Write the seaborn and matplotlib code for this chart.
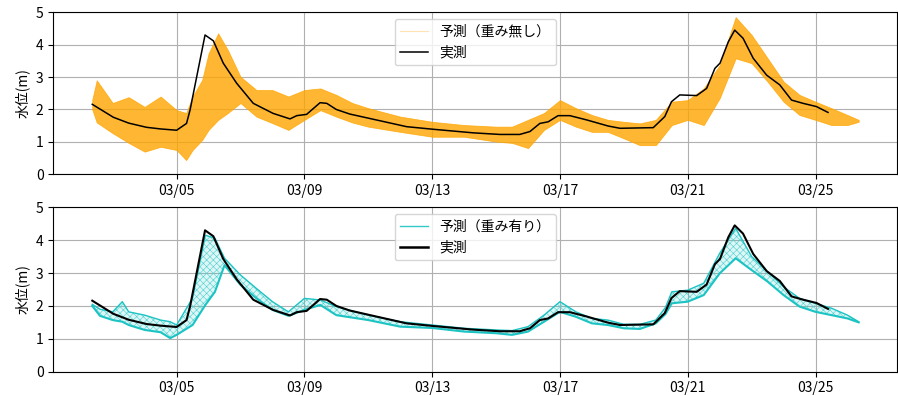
import numpy as np
import pandas as pd
import matplotlib
matplotlib.use("Agg")
import matplotlib.pyplot as plt
import matplotlib.dates as mdates
from matplotlib.lines import Line2D
import seaborn as sns

# ---------------- data (day-of-March, fractional) ----------------
obs_days = [2.36, 3.02, 3.5, 4.06, 4.5, 5.0, 5.31, 5.42, 5.89, 6.15, 6.46, 6.88,
            7.40, 8.02, 8.55, 8.76, 9.07, 9.49, 9.70, 10.0, 10.42, 11.15, 12.20,
            13.03, 14.28, 15.12, 15.74, 16.06, 16.37, 16.63, 16.94, 17.31, 17.83,
            18.51, 18.88, 19.92, 20.28, 20.49, 20.75, 21.28, 21.59, 21.85, 22.01,
            22.27, 22.47, 22.73, 23.05, 23.47, 23.88, 24.25, 24.61, 25.03, 25.39]
obs_level = [2.16, 1.76, 1.58, 1.45, 1.40, 1.36, 1.57, 1.98, 4.30, 4.12, 3.43, 2.81,
             2.19, 1.88, 1.71, 1.81, 1.85, 2.21, 2.19, 2.00, 1.86, 1.70, 1.47,
             1.39, 1.28, 1.23, 1.23, 1.32, 1.57, 1.62, 1.81, 1.81, 1.68,
             1.49, 1.42, 1.44, 1.78, 2.24, 2.45, 2.43, 2.65, 3.27, 3.43,
             4.09, 4.45, 4.20, 3.58, 3.06, 2.76, 2.29, 2.19, 2.09, 1.91]

# unweighted forecast spread (upper / lower envelope)
fa_days = [2.36, 2.5, 3.0, 3.5, 4.0, 4.5, 5.0, 5.3, 5.5, 5.8, 6.0, 6.3, 6.6, 7.0,
           7.5, 8.0, 8.5, 9.0, 9.5, 10.0, 10.5, 11.0, 12.0, 13.0, 14.0, 15.0,
           15.5, 16.0, 16.5, 17.0, 17.5, 18.0, 18.5, 19.0, 19.5, 20.0, 20.5,
           21.0, 21.5, 22.0, 22.5, 23.0, 23.5, 24.0, 24.5, 25.0, 25.5, 26.0, 26.35]
fa_upper = [2.30, 2.90, 2.20, 2.38, 2.08, 2.40, 1.98, 1.89, 2.40, 2.91, 3.73, 4.35,
            3.84, 3.01, 2.60, 2.60, 2.40, 2.60, 2.65, 2.45, 2.20, 2.04, 1.78,
            1.62, 1.52, 1.47, 1.47, 1.68, 1.89, 2.29, 2.04, 1.83, 1.68, 1.62,
            1.57, 1.68, 2.24, 2.29, 2.65, 3.37, 4.85, 4.30, 3.58, 2.86, 2.45,
            2.24, 2.04, 1.83, 1.68]
fa_lower = [2.00, 1.60, 1.27, 0.97, 0.70, 0.85, 0.75, 0.44, 0.75, 1.06, 1.37, 1.68,
            1.89, 2.20, 1.78, 1.58, 1.37, 1.68, 1.98, 1.78, 1.60, 1.47, 1.31,
            1.16, 1.16, 1.01, 0.97, 0.81, 1.37, 1.68, 1.47, 1.31, 1.31, 1.11,
            0.90, 0.90, 1.52, 1.68, 1.52, 2.35, 3.58, 3.43, 2.86, 2.24, 1.83,
            1.68, 1.52, 1.52, 1.62]

# weighted forecast spread
fb_days = [2.36, 2.6, 3.0, 3.3, 3.5, 4.0, 4.5, 4.8, 5.0, 5.5, 5.9, 6.2, 6.5, 7.0,
           7.5, 8.0, 8.5, 9.0, 9.5, 10.0, 11.0, 12.0, 13.0, 14.0, 15.0, 15.5,
           16.0, 16.5, 17.0, 17.5, 18.0, 18.5, 19.0, 19.5, 20.0, 20.3, 20.5,
           21.0, 21.5, 22.0, 22.5, 23.0, 23.5, 24.0, 24.5, 25.0, 25.5, 26.0, 26.35]
fb_upper = [2.05, 1.90, 1.82, 2.13, 1.82, 1.72, 1.57, 1.52, 1.42, 2.24, 4.15, 4.06,
            3.45, 2.94, 2.53, 2.13, 1.82, 2.23, 2.18, 1.98, 1.72, 1.52, 1.42,
            1.32, 1.27, 1.25, 1.37, 1.72, 2.13, 1.82, 1.62, 1.57, 1.44, 1.44,
            1.57, 1.95, 2.43, 2.48, 2.69, 3.60, 4.36, 3.50, 3.04, 2.58, 2.23,
            2.08, 1.93, 1.72, 1.52]
fb_lower = [2.00, 1.70, 1.57, 1.52, 1.42, 1.27, 1.20, 1.02, 1.12, 1.42, 2.03, 2.43,
            3.24, 2.64, 2.23, 1.88, 1.70, 1.88, 2.03, 1.72, 1.57, 1.37, 1.33,
            1.22, 1.17, 1.12, 1.22, 1.52, 1.82, 1.67, 1.47, 1.42, 1.32, 1.30,
            1.47, 1.75, 2.08, 2.13, 2.33, 2.99, 3.45, 3.09, 2.74, 2.33, 1.98,
            1.82, 1.72, 1.62, 1.50]

tick_days = [5, 9, 13, 17, 21, 25]
y_ticks = [0, 1, 2, 3, 4, 5]
label_fc_a = "予測（重み無し）"
label_fc_b = "予測（重み有り）"
label_obs = "実測"
ylabel = "水位(m)"

# ---------------- plotting ----------------
plt.rcParams['font.family'] = ['Noto Sans CJK JP', 'DejaVu Sans']
plt.rcParams['hatch.linewidth'] = 0.4

base = pd.Timestamp("2024-03-01")


def to_time(days):
    return base + pd.to_timedelta(np.asarray(days, dtype=float) - 1.0, unit="D")


ORANGE = "#FFA500"
TEAL = "#1CC3C3"
TEAL_LIGHT = "#4FD0D0"

fig = plt.figure(figsize=(8.98, 3.96), dpi=100)
W, H = 898.0, 396.0
ax1 = fig.add_axes([53.3 / W, 1 - 174.3 / H, (897 - 53.3) / W, (174.3 - 12.3) / H])
ax2 = fig.add_axes([53.3 / W, 1 - 371.7 / H, (897 - 53.3) / W, (371.7 - 207.3) / H])

obs_df = pd.DataFrame({"time": to_time(obs_days), "level": obs_level})

# top: unweighted
ax1.fill_between(to_time(fa_days), fa_lower, fa_upper, color=ORANGE, alpha=0.8,
                 linewidth=0.6, zorder=2)
sns.lineplot(data=obs_df, x="time", y="level", color="black", lw=1.1, ax=ax1,
             zorder=3, legend=False)

# bottom: weighted
ax2.fill_between(to_time(fb_days), fb_lower, fb_upper, facecolor=TEAL, alpha=0.15,
                 linewidth=0, zorder=2)
ax2.fill_between(to_time(fb_days), fb_lower, fb_upper, facecolor="none",
                 edgecolor=TEAL_LIGHT, hatch="xxxxx", linewidth=0, zorder=2)
sns.lineplot(x=to_time(fb_days), y=fb_upper, color=TEAL, lw=1.0, ax=ax2, zorder=2)
sns.lineplot(x=to_time(fb_days), y=fb_lower, color=TEAL, lw=1.5, ax=ax2, zorder=2)
sns.lineplot(data=obs_df, x="time", y="level", color="black", lw=1.5, ax=ax2,
             zorder=3, legend=False)

for ax, fc_label, fc_color, fc_lw, fc_alpha, obs_lw in [
        (ax1, label_fc_a, ORANGE, 0.8, 0.3, 1.1),
        (ax2, label_fc_b, TEAL, 1.0, 0.9, 1.8)]:
    ax.set_xlim(to_time([1.14, 27.55]))
    ax.set_ylim(0, 5)
    ax.set_yticks(y_ticks)
    ax.set_xticks(to_time(tick_days))
    ax.xaxis.set_major_formatter(mdates.DateFormatter("%m/%d"))
    ax.tick_params(labelsize=10)
    ax.grid(True, color="#b0b0b0", lw=0.8)
    ax.set_axisbelow(True)
    ax.set_xlabel("")
    ax.set_ylabel(ylabel, fontsize=10)
    handles = [Line2D([0], [0], color=fc_color, lw=fc_lw, alpha=fc_alpha),
               Line2D([0], [0], color="black", lw=obs_lw)]
    ax.legend(handles, [fc_label, label_obs], loc="upper center", fontsize=10)

fig.savefig("out.png", dpi=100)
